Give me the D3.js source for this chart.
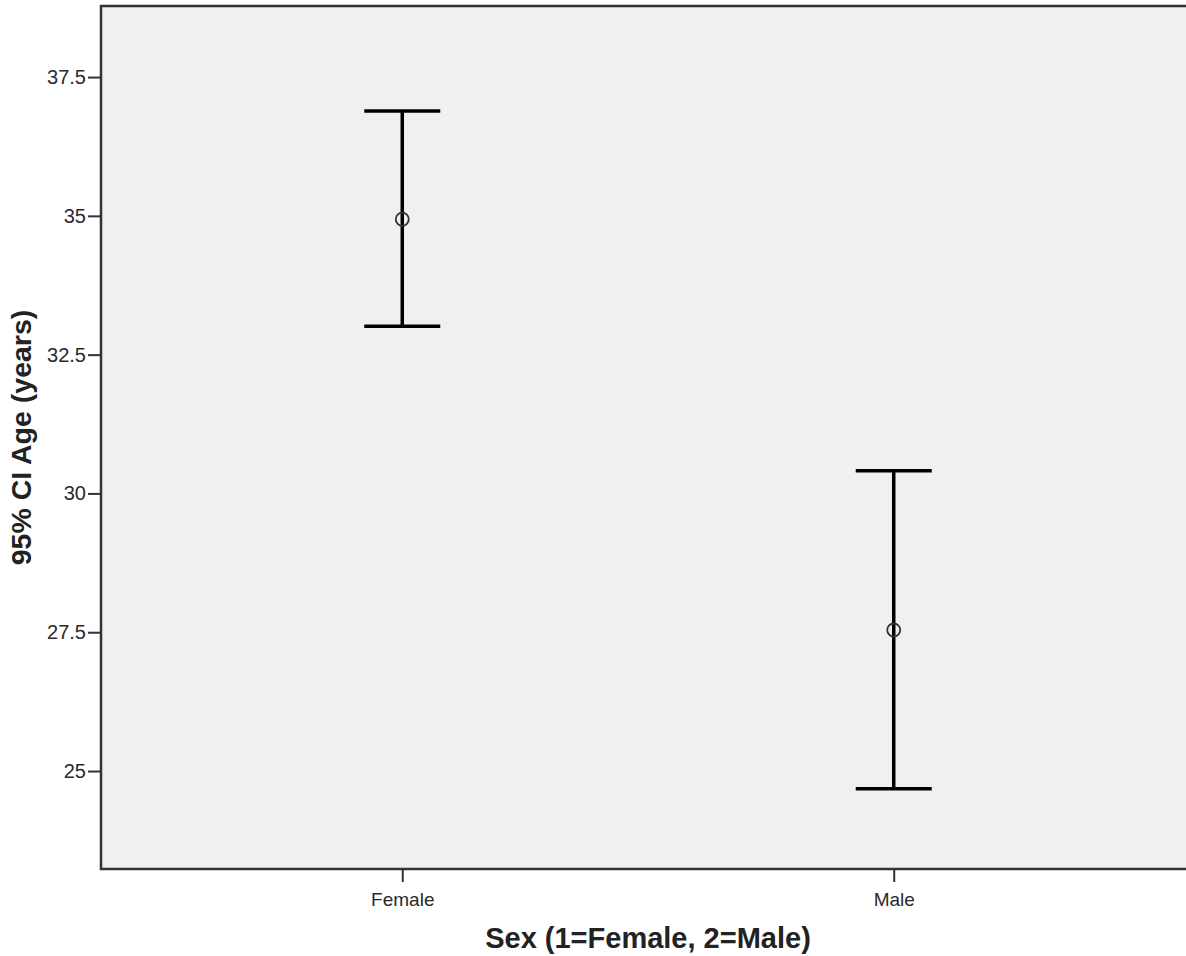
<!DOCTYPE html>
<html>
<head>
<meta charset="utf-8">
<script src="https://cdn.jsdelivr.net/npm/d3@7"></script>
<style>
  html, body { margin: 0; padding: 0; background: #ffffff; }
  svg { display: block; }
  text { font-family: "Liberation Sans", Arial, sans-serif; }
</style>
</head>
<body>
<svg id="chart" width="1186" height="956"></svg>
<script>
// ---- data ----
const categories = ["Female", "Male"];
const means = [34.94, 27.54];
const lowerCI = [33.01, 24.68];
const upperCI = [36.89, 30.41];
const yTicks = [25, 27.5, 30, 32.5, 35, 37.5];
const yTickLabels = ["25", "27.5", "30", "32.5", "35", "37.5"];
const xTitle = "Sex (1=Female, 2=Male)";
const yTitle = "95% CI Age (years)";

// ---- layout ----
const plot = { left: 101, top: 6, right: 1195, bottom: 869 };
const svg = d3.select("#chart");

const x = d3.scalePoint().domain(categories).range([plot.left, plot.right]).padding(0.613);
const y = d3.scaleLinear().domain([23.235, 38.78]).range([plot.bottom, plot.top]);

// background
svg.append("rect")
  .attr("x", plot.left).attr("y", plot.top)
  .attr("width", plot.right - plot.left).attr("height", plot.bottom - plot.top)
  .attr("fill", "#f0f0f0");

// axes
const yAxis = d3.axisLeft(y).tickValues(yTicks)
  .tickFormat((d, i) => yTickLabels[i]).tickSize(13).tickPadding(2);
const gy = svg.append("g").attr("transform", `translate(${plot.left},0)`).call(yAxis);
gy.select(".domain").remove();
gy.selectAll(".tick line").attr("stroke", "#333").attr("stroke-width", 2);
gy.selectAll(".tick text").attr("font-size", 20).attr("fill", "#2a2a2a")
  .attr("font-family", "'Liberation Sans', Arial, sans-serif");

const xAxis = d3.axisBottom(x).tickSize(13).tickPadding(11);
const gx = svg.append("g").attr("transform", `translate(0,${plot.bottom})`).call(xAxis);
gx.select(".domain").remove();
gx.selectAll(".tick line").attr("stroke", "#333").attr("stroke-width", 2);
gx.selectAll(".tick text").attr("font-size", 19).attr("fill", "#2a2a2a")
  .attr("font-family", "'Liberation Sans', Arial, sans-serif");

// frame
svg.append("path")
  .attr("d", `M${plot.right},${plot.top}H${plot.left}V${plot.bottom}H${plot.right}`)
  .attr("fill", "none").attr("stroke", "#333").attr("stroke-width", 2.5);

// error bars
const capHalf = 38;
const data = categories.map((c, i) => ({ c, m: means[i], lo: lowerCI[i], hi: upperCI[i] }));
const eb = svg.append("g").selectAll("g").data(data).join("g");
eb.append("line")
  .attr("x1", d => x(d.c)).attr("x2", d => x(d.c))
  .attr("y1", d => y(d.hi)).attr("y2", d => y(d.lo))
  .attr("stroke", "#000").attr("stroke-width", 3.5);
eb.append("line")
  .attr("x1", d => x(d.c) - capHalf).attr("x2", d => x(d.c) + capHalf)
  .attr("y1", d => y(d.hi)).attr("y2", d => y(d.hi))
  .attr("stroke", "#000").attr("stroke-width", 3.5);
eb.append("line")
  .attr("x1", d => x(d.c) - capHalf).attr("x2", d => x(d.c) + capHalf)
  .attr("y1", d => y(d.lo)).attr("y2", d => y(d.lo))
  .attr("stroke", "#000").attr("stroke-width", 3.5);
eb.append("circle")
  .attr("cx", d => x(d.c)).attr("cy", d => y(d.m)).attr("r", 6.5)
  .attr("fill", "none").attr("stroke", "#333").attr("stroke-width", 1.8);

// titles
svg.append("text")
  .attr("x", (plot.left + plot.right) / 2).attr("y", 948)
  .attr("text-anchor", "middle").attr("font-size", 29).attr("font-weight", "bold")
  .attr("fill", "#222").text(xTitle);
svg.append("text")
  .attr("transform", `translate(31,${(plot.top + plot.bottom) / 2}) rotate(-90)`)
  .attr("text-anchor", "middle").attr("font-size", 28.5).attr("font-weight", "bold")
  .attr("fill", "#222").text(yTitle);
</script>
</body>
</html>
